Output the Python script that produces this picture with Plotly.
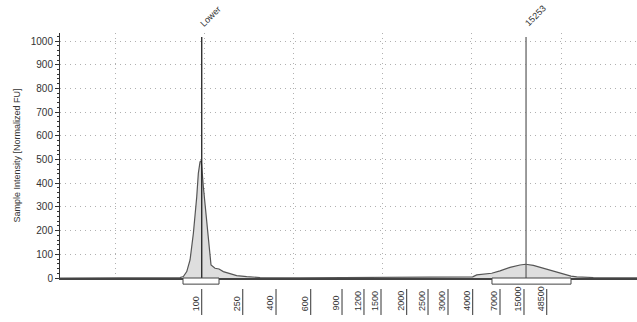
import plotly.graph_objects as go

# Migration time (s) and fluorescence intensity of the sample trace
time_s = [13.83, 19.44, 27.29, 27.66, 28.04, 28.41, 28.78, 29.16, 29.34, 29.53, 29.67,
          29.90, 30.28, 30.54, 30.76, 31.21, 31.66, 32.14, 32.89, 33.64, 34.76, 36.26,
          40.74, 46.91, 53.07, 56.43, 56.80, 60.10, 60.55, 61.67, 62.23, 63.16, 64.28,
          65.40, 66.04, 66.90, 68.02, 69.14, 70.26, 71.12, 71.76, 73.62, 78.52]
intensity = [0, 1, 2, 6, 27, 76, 188, 343, 442, 490, 495,
             385, 245, 132, 55, 41, 38, 27, 17, 10, 6, 2,
             1, 3, 2, 3, 5, 5, 13, 17, 20, 30, 45,
             55, 58, 53, 41, 27, 16, 8, 5, 2, 1]

# Size ladder (bp) and their migration times
ladder_bp = ["100", "250", "400", "600", "900", "1200", "1500", "2000",
             "2500", "3000", "4000", "7000", "15000", "48500"]
ladder_time = [29.72, 34.32, 38.05, 41.94, 45.45, 47.91, 49.82, 52.70,
               55.09, 57.33, 60.10, 63.16, 65.85, 68.40]

# Called peaks: label, time, integration window
peak_labels = ["Lower", "15253"]
peak_time = [29.72, 66.08]
peak_line_color = ["#222222", "#666666"]
window_start = [27.62, 62.26]
window_end = [31.66, 71.12]

y_ticks = list(range(0, 1001, 100))
x_grid = [20, 30, 40, 50, 60, 70]

FONT = "Liberation Sans"
DARK = "#333333"
GRID_DASH = "1px,4px"

fig = go.Figure()
fig.add_trace(go.Scatter(
    x=time_s, y=intensity, mode="lines",
    line=dict(color="#555555", width=1.2),
    fill="tozeroy", fillcolor="#dedede",
    hoverinfo="skip", showlegend=False,
))

shapes = []
annotations = []

# Peak marker lines and labels
for lab, t, col in zip(peak_labels, peak_time, peak_line_color):
    shapes.append(dict(type="line", xref="x", yref="y", x0=t, x1=t, y0=0, y1=1017,
                       line=dict(color=col, width=1.3)))
    annotations.append(dict(text=lab, x=t, y=1.008, xref="x", yref="paper",
                            xanchor="left", yanchor="bottom", xshift=-6,
                            textangle=-45, showarrow=False,
                            font=dict(family=FONT, size=9, color=DARK)))

# Integration windows drawn just below the baseline
for a, b in zip(window_start, window_end):
    shapes.append(dict(type="rect", xref="x", yref="paper", x0=a, x1=b,
                       y0=0.0, y1=-0.025, line=dict(color="#444444", width=1),
                       fillcolor="white"))

# Ladder ticks with rotated size labels
for lab, t in zip(ladder_bp, ladder_time):
    shapes.append(dict(type="line", xref="x", yref="paper", x0=t, x1=t,
                       y0=-0.045, y1=-0.151, line=dict(color=DARK, width=1)))
    annotations.append(dict(text=lab, x=t, y=-0.143, xref="x", yref="paper",
                            xanchor="center", yanchor="bottom", xshift=-6,
                            textangle=-90, showarrow=False,
                            font=dict(family=FONT, size=9, color=DARK)))

fig.update_layout(
    width=637, height=322,
    margin=dict(l=60, r=0, t=33, b=44),
    paper_bgcolor="white", plot_bgcolor="white",
    font=dict(family=FONT, size=10, color=DARK),
    shapes=shapes, annotations=annotations,
    xaxis=dict(range=[13.83, 78.52], tickvals=x_grid, showticklabels=False,
               ticks="", showgrid=True, gridcolor="#b0b0b0", griddash=GRID_DASH,
               gridwidth=1, showline=True, linecolor="#444444", linewidth=1.5,
               zeroline=False),
    yaxis=dict(range=[0, 1034], tickvals=y_ticks, showgrid=True,
               gridcolor="#b0b0b0", griddash=GRID_DASH, gridwidth=1,
               showline=True, linecolor=DARK, linewidth=1,
               ticks="outside", ticklen=4, tickcolor=DARK,
               minor=dict(dtick=20, ticks="outside", ticklen=2, tickcolor=DARK),
               zeroline=False, tickfont=dict(size=10),
               title=dict(text="Sample Intensity [Normalized FU]",
                          font=dict(size=9), standoff=8)),
)

fig.write_html("out.html")
